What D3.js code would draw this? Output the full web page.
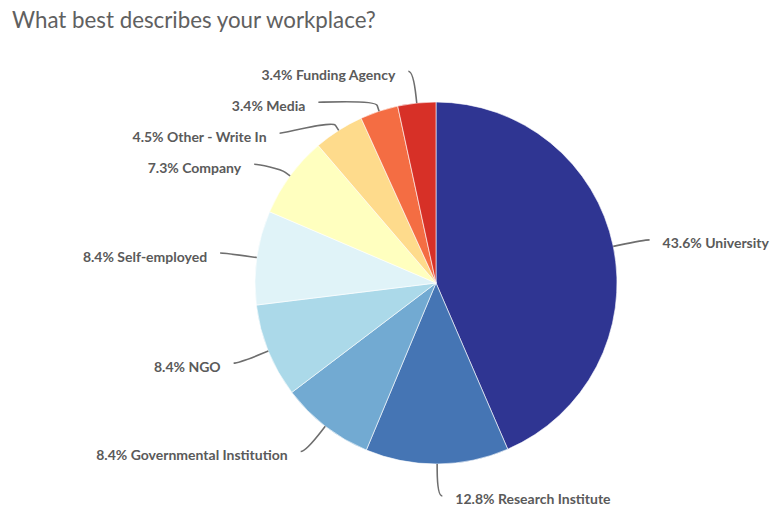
<!DOCTYPE html>
<html>
<head>
<meta charset="utf-8">
<script src="https://cdn.jsdelivr.net/npm/d3@7"></script>
<style>
  html, body { margin: 0; padding: 0; background: #ffffff; }
  svg { display: block; }
</style>
</head>
<body>
<svg id="chart" width="783" height="508"></svg>
<script>
// Survey answers, clockwise from 12 o'clock
const categories = ["University", "Research Institute", "Governmental Institution", "NGO",
                    "Self-employed", "Company", "Other - Write In", "Media", "Funding Agency"];
const shares = [43.6, 12.8, 8.4, 8.4, 8.4, 7.3, 4.5, 3.4, 3.4];
const sliceColors = ["#2f3592", "#4575b4", "#72aad2", "#abd9e9", "#e0f3f8",
                     "#ffffbf", "#fedb8c", "#f46d43", "#d73027"];
const titleText = "What best describes your workplace?";

// Geometry
const cx = 436, cy = 283, radius = 181;
const labelRadius = 213;   // circle the label anchors sit on
const breakOffset = 6;     // connector bend, just outside the rim
const labelGap = 31;       // minimum vertical spacing between labels on one side
const labelTop = 71;       // highest anchor allowed

const svg = d3.select("#chart");

svg.append("text")
  .attr("x", 12).attr("y", 28)
  .attr("font-family", "Lato, 'Noto Sans', sans-serif")
  .attr("font-size", 22.3)
  .attr("fill", "#606060")
  .text(titleText);

const data = categories.map((c, i) => ({ name: c, value: shares[i], color: sliceColors[i] }));

const pie = d3.pie().sort(null).value(d => d.value).startAngle(0).endAngle(2 * Math.PI);
const arcs = pie(data);
const arc = d3.arc().innerRadius(0).outerRadius(radius);

const g = svg.append("g").attr("transform", `translate(${cx},${cy})`);
g.selectAll("path.slice")
  .data(arcs)
  .join("path")
  .attr("class", "slice")
  .attr("d", arc)
  .attr("fill", d => d.data.color)
  .attr("stroke", "#ffffff")
  .attr("stroke-width", 0.6);

// Label placement: natural spot on an outer circle, pushed apart vertically per side
const polar = (a, r) => [cx + Math.sin(a) * r, cy - Math.cos(a) * r];
const labels = arcs.map(d => {
  const mid = (d.startAngle + d.endAngle) / 2;
  const left = Math.sin(mid) < 0;
  const natY = cy - Math.cos(mid) * labelRadius;
  return { d, mid, left, y: natY, natY };
});

[true, false].forEach(side => {
  const group = labels.filter(l => l.left === side).sort((a, b) => a.natY - b.natY);
  let prev = -Infinity;
  group.forEach(l => {
    l.y = Math.max(l.natY, prev + labelGap, labelTop);
    prev = l.y;
  });
});

labels.forEach(l => {
  const dy = l.y - cy;
  const dx = Math.sqrt(Math.max(0, labelRadius * labelRadius - dy * dy));
  l.x = l.left ? cx - dx : cx + dx;
  l.touch = polar(l.mid, radius);
  l.brk = polar(l.mid, radius + breakOffset);
});

const conn = svg.append("g");
conn.selectAll("path")
  .data(labels)
  .join("path")
  .attr("fill", "none")
  .attr("stroke", "#6e6e6e")
  .attr("stroke-width", 1.6)
  .attr("d", l => {
    const sx = l.left ? l.x - 5 : l.x + 5;
    const p = d3.path();
    p.moveTo(sx, l.y);
    p.bezierCurveTo(l.x, l.y,
                    2 * l.brk[0] - l.touch[0], 2 * l.brk[1] - l.touch[1],
                    l.brk[0], l.brk[1]);
    p.lineTo(l.touch[0], l.touch[1]);
    return p.toString();
  });

svg.append("g").selectAll("text")
  .data(labels)
  .join("text")
  .attr("x", l => l.left ? l.x - 18 : l.x + 18)
  .attr("y", l => l.y + 3)
  .attr("dominant-baseline", "central")
  .attr("text-anchor", l => l.left ? "end" : "start")
  .attr("font-family", "Lato, 'Noto Sans', sans-serif")
  .attr("font-weight", 700)
  .attr("font-size", 14)
  .attr("fill", "#5a5a5a")
  .text(l => `${l.d.data.value.toFixed(1)}% ${l.d.data.name}`);
</script>
</body>
</html>
